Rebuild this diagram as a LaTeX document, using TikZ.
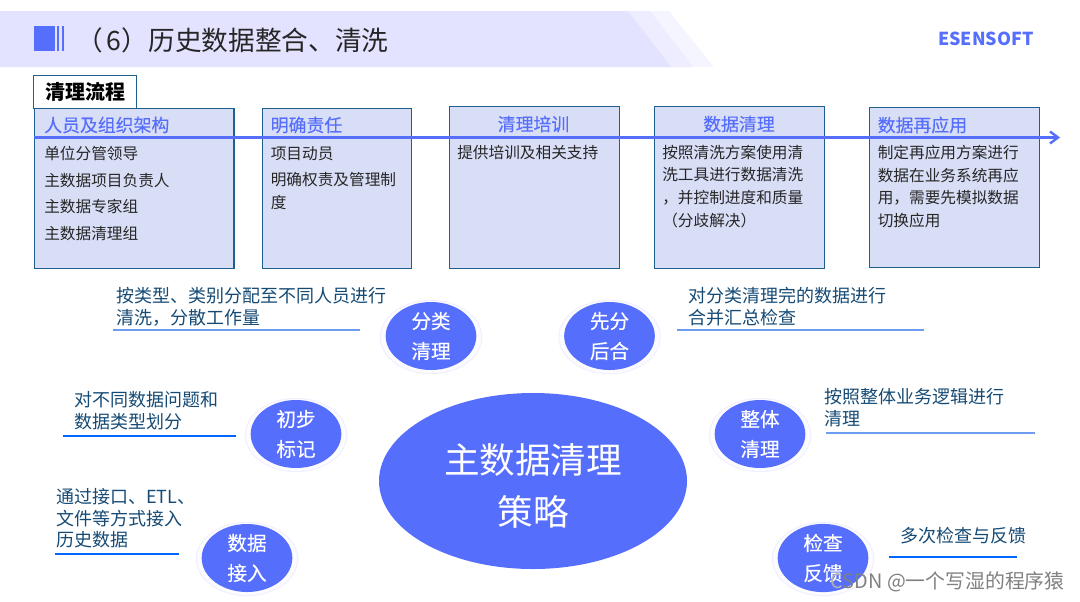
\documentclass[tikz,border=0pt]{standalone}
\usepackage{fontspec}
\setmainfont{Noto Sans CJK SC}
\newfontfamily\medcjk[FakeBold=0.3]{Noto Sans CJK SC}
\usetikzlibrary{arrows.meta,shapes.geometric}
\definecolor{mainblue}{HTML}{566EFC}
\definecolor{boxfill}{HTML}{D8DEF6}
\definecolor{boxline}{HTML}{1F5F8F}
\definecolor{notetext}{HTML}{154A75}
\definecolor{noteline}{HTML}{6E9CF0}
\tikzset{
  stepbox/.style={draw=boxline, fill=boxfill, line width=1pt, rectangle, anchor=north west, inner sep=0pt},
  stephead/.style={text=mainblue, inner sep=0pt, font=\medcjk\fontsize{13.4}{16}\selectfont},
  steptext/.style={text=black!85, anchor=north west, align=left, inner sep=0pt, font=\fontsize{11.75}{17}\selectfont},
  halo/.style={ellipse, draw=blue!6, fill=blue!1, line width=0.8pt, inner sep=0pt, minimum width=76pt, minimum height=55pt},
  topic/.style={ellipse, fill=mainblue, text=white, align=center, inner sep=0pt, minimum width=68pt, minimum height=51pt, font=\medcjk\fontsize{14.7}{22.5}\selectfont},
  notetxt/.style={text=notetext, anchor=north west, align=left, inner sep=0pt, font=\fontsize{13.5}{16.3}\selectfont},
  underl/.style={draw=noteline, line width=0.8pt},
}
\begin{document}
\begin{tikzpicture}[x=0.75pt,y=-0.75pt]
    \useasboundingbox (0,0) rectangle (1080,601);
    % title band
    \fill[blue!4] (0,11) -- (669,11) -- (714,67) -- (0,67) -- cycle;
    \fill[blue!7] (0,11) -- (650,11) -- (693,67) -- (0,67) -- cycle;
    \fill[blue!11] (0,11) -- (628,11) -- (671,67) -- (0,67) -- cycle;
    \fill[mainblue] (34,26) rectangle (55,51);
    \draw[mainblue, line width=0.8pt] (58,26) -- (58,51);
    \draw[mainblue, line width=0.8pt] (63,26) -- (63,51);
    \node[anchor=west, inner sep=0pt, text=black!85, font=\fontsize{20}{24}\selectfont] (title) at (76,40) {（\kern3pt 6）历史数据整合、清洗};
    \node[anchor=west, inner sep=0pt, text=mainblue, font=\fontsize{13.4}{18}\selectfont\bfseries] (logo) at (938,38.5) {ESENSOFT};
    % flow boxes
    \node[stepbox, fill=white, minimum width=77pt, minimum height=25pt] (flowtag) at (33,74.5) {};
    \node[font=\fontsize{15}{18}\selectfont\bfseries] (flowname) at (85,92) {清理流程};
    \node[stepbox, minimum width=149.5pt, minimum height=120pt] (staffbox) at (34,107.5) {};
    \node[stepbox, minimum width=112pt, minimum height=120pt] (dutybox) at (261.5,107.5) {};
    \node[stepbox, minimum width=127.5pt, minimum height=121.5pt] (trainbox) at (448.5,105.5) {};
    \node[stepbox, minimum width=127.5pt, minimum height=121.5pt] (cleanbox) at (653.5,105.5) {};
    \node[stepbox, minimum width=127.5pt, minimum height=120pt] (reusebox) at (868.5,107) {};
    \coordinate (flowstart) at (34,137.5);
    \coordinate (flowend) at (1060,137.5);
    \draw[-{Straight Barb[length=6pt,width=9pt]}, mainblue, line width=1.8pt] (flowstart) -- (flowend);
    \node[stephead, anchor=west] (staffhead) at (44,125) {人员及组织架构};
    \node[stephead, anchor=west] (dutyhead) at (270.5,125) {明确责任};
    \node[stephead] (trainhead) at (533.5,124) {清理培训};
    \node[stephead] (cleanhead) at (739,124) {数据清理};
    \node[stephead, anchor=west] (reusehead) at (877.5,125) {数据再应用};
    \node[steptext] (stafftext) at (44,146) {单位分管领导\\[3pt]主数据项目负责人\\[3pt]主数据专家组\\[3pt]主数据清理组};
    \node[steptext] (dutytext) at (270.5,146) {项目动员\\[3pt]明确权责及管理制\\度};
    \node[steptext] (traintext) at (457,144.5) {提供培训及相关支持};
    \node[steptext] (cleantext) at (662,144.5) {按照清洗方案使用清\\洗工具进行数据清洗\\，并控制进度和质量\\（分歧解决）};
    \node[steptext] (reusetext) at (877.5,145) {制定再应用方案进行\\数据在业务系统再应\\用，需要先模拟数据\\切换应用};
    % strategy
    \node[ellipse, fill=mainblue, inner sep=0pt, minimum width=231pt, minimum height=132pt] (core) at (533,481) {};
    \node[text=white, align=center, inner sep=0pt, font=\fontsize{26.7}{39}\selectfont] (coretext) at (533,486) {主数据清理\\策略};
    \foreach \x/\y/\name/\txt in {431/335/sort/分类\\清理, 609.5/335/merge/先分\\后合, 296/433/mark/初步\\标记, 760/433/whole/整体\\清理, 247/557/load/数据\\接入, 823/557/check/检查\\反馈}
    {
      \node[halo] (\name halo) at (\x,\y+2) {};
      \node[topic] (\name) at (\x,\y+1) {\txt};
    }
    \node[notetxt] (sortnote) at (116,287) {按类型、类别分配至不同人员进行\\清洗，分散工作量};
    \draw[underl] (113,330) -- (359.5,330);
    \node[notetxt] (mergenote) at (688,287) {对分类清理完的数据进行\\合并汇总检查};
    \draw[underl] (677,330) -- (923.5,330);
    \node[notetxt] (marknote) at (74,391) {对不同数据问题和\\数据类型划分};
    \draw[underl, draw=blue!60!cyan] (63,436) -- (236,436);
    \node[notetxt] (wholenote) at (824,388) {按照整体业务逻辑进行\\清理};
    \draw[underl, line width=1pt] (825.5,433) -- (1035,433);
    \node[notetxt] (loadnote) at (56,488) {通过接口、ETL、\\文件等方式接入\\历史数据};
    \draw[underl, draw=blue!60!cyan] (55,554) -- (179,554);
    \node[notetxt] (checknote) at (900,527) {多次检查与反馈};
    \draw[underl, draw=blue!60!cyan] (889,557) -- (1016.5,557);
    % watermark
    \node[anchor=east, inner sep=0pt, text=black!50, font=\fontsize{14.9}{18}\selectfont] (stamp) at (1065,582) {\textcolor{black!30}{C}SDN @一个写湿的程序猿};
\end{tikzpicture}
\end{document}
